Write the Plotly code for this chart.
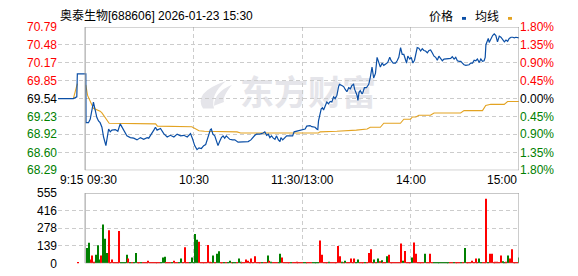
import plotly.graph_objects as go

# ---------------- data ----------------
title_text = "奥泰生物[688606] 2026-01-23 15:30"
watermark_text = "东方财富"
prev_close = 69.54

# minutes from 09:30 (lunch break compressed; 120 = 11:30/13:00, 240 = 15:00)
price_min = [-15, -6.5, -4.6, -4.3, 0.4,
             0.5, 1.85, 2.8, 4.6, 5.6, 6.5, 7.4, 8.3, 9.3, 10.2, 11.5, 13.0, 13.9, 14.8, 16.7,
             18.1, 19.4, 20.4, 22.2, 23.1, 25.0, 26.9, 28.7, 30.6, 32.4, 34.3, 35.2, 37.0, 38.0,
             38.9, 39.8, 41.7, 42.6, 43.5, 45.4, 47.2, 49.1, 50.9, 52.8, 54.6, 56.5, 58.3,
             59.3, 60.6, 61.9, 63.0, 64.3, 65.6, 66.7, 67.4, 68.5, 69.3, 69.8, 70.7, 71.7, 72.6,
             73.5, 74.4, 75.4, 76.3, 77.2, 78.1, 79.1, 80.0, 81.5, 82.8, 84.6, 86.5, 88.3, 90.2,
             91.7, 92.6, 93.9, 94.8, 96.7, 98.5, 99.4, 100.4, 101.3, 102.2, 103.1, 104.1, 105.0,
             105.9, 106.9, 107.8, 108.3, 109.3, 110.2, 111.5, 113.3, 114.8, 115.6, 117.0, 118.9,
             120.7, 121.7, 122.6, 123.5, 124.4, 125.4, 127.2, 128.1, 128.7, 129.1, 130.0, 130.6,
             131.3, 131.9, 132.8, 133.7, 134.6, 135.6, 136.5, 137.4, 138.3, 139.3, 140.2, 140.7,
             142.0, 143.0, 143.9, 144.8, 145.8, 146.7, 147.6, 148.5, 149.1, 149.8, 150.4, 150.9,
             151.5, 152.2, 153.2, 153.7, 154.5, 155.6, 156.9, 157.8, 158.7, 159.6, 160.6, 161.5,
             162.4, 163.3, 164.3, 165.2, 166.1, 167.4, 168.5, 169.3, 170.4, 171.7, 172.6, 173.5,
             174.5, 175.4, 176.3, 177.2, 177.8, 178.5, 179.6, 180.4, 181.3, 182.2, 182.8, 183.7,
             184.6, 185.6, 186.5, 187.4, 188.3, 189.3, 190.2, 191.1, 192.0, 193.0, 193.9, 194.8,
             195.7, 196.7, 197.6, 198.5, 200.4, 202.2, 203.1, 204.1, 205.0, 205.9, 206.9, 207.8,
             208.7, 209.6, 210.6, 212.4, 213.3, 214.3, 215.2, 216.1, 217.0, 218.0, 218.9, 219.8,
             220.7, 221.3, 221.7, 222.2, 223.0, 223.5, 224.4, 225.4, 226.3, 227.2, 228.1, 229.1,
             230.0, 230.9, 231.9, 232.8, 233.7, 234.6, 235.6, 236.5, 237.4, 238.3, 239.3, 240.0]
price_val = [69.54, 69.54, 69.57, 69.97, 69.97,
             69.12, 69.12, 69.18, 69.48, 69.32, 69.21, 69.15, 69.12, 69.04, 68.87, 68.72, 69.01, 68.96, 68.99, 69.00,
             68.97, 69.10, 69.04, 68.93, 68.89, 68.86, 68.85, 68.82, 68.86, 68.83, 68.86, 68.85, 68.93, 68.99,
             69.04, 68.99, 69.02, 68.96, 68.93, 68.87, 68.90, 68.87, 68.92, 68.89, 68.90, 68.87, 68.93,
             68.85, 68.72, 68.65, 68.68, 68.67, 68.72, 68.74, 68.82, 68.90, 69.00, 69.01, 68.92, 68.89, 68.82,
             68.72, 68.79, 68.86, 68.89, 68.85, 68.89, 68.85, 68.83, 68.82, 68.82, 68.78, 68.78, 68.78, 68.79,
             68.82, 68.86, 68.90, 68.92, 68.92, 68.94, 68.96, 68.90, 68.92, 68.86, 68.89, 68.85, 68.83,
             68.89, 68.82, 68.79, 68.86, 68.82, 68.85, 68.89, 68.89, 68.89, 68.96, 68.97, 68.98,
             68.99, 69.01, 69.06, 69.07, 69.07, 69.05, 69.04, 69.01, 69.00, 69.15, 69.26, 69.36,
             69.38, 69.34, 69.41, 69.48, 69.45, 69.49, 69.48, 69.57, 69.54, 69.60, 69.75, 69.79,
             69.77, 69.75, 69.70, 69.66, 69.73, 69.71, 69.77, 69.79, 69.70, 69.65, 69.60, 69.51,
             69.65, 69.68, 69.62, 69.65, 69.73, 69.73, 69.79, 69.92, 70.09, 69.90, 69.98, 70.26,
             70.17, 70.09, 70.16, 70.12, 70.14, 70.17, 70.26, 70.20, 70.16, 70.16, 70.20, 70.26,
             70.43, 70.31, 70.31, 70.23, 70.16, 70.28, 70.23, 70.26, 70.16, 70.21, 70.28, 70.43,
             70.42, 70.37, 70.41, 70.38, 70.37, 70.34, 70.38, 70.39, 70.34, 70.28, 70.26, 70.21,
             70.28, 70.23, 70.20, 70.23, 70.24, 70.24, 70.27, 70.23, 70.26, 70.20, 70.19, 70.19,
             70.16, 70.13, 70.12, 70.13, 70.16, 70.16, 70.21, 70.20, 70.23, 70.17, 70.23, 70.19,
             70.20, 70.26, 70.48, 70.53, 70.59, 70.52, 70.58, 70.64, 70.67, 70.64, 70.53, 70.63,
             70.61, 70.56, 70.53, 70.56, 70.54, 70.59, 70.61, 70.61, 70.60, 70.61, 70.61, 70.60]

avg_min = [-6.5, -4.3, None,
           0.4, 1.3, 4.6, 8.3, 9.3, 11.5, 13.3, 39.0, 40.0, 59.0, 61.0, 63.0, 66.0, 84.0, 86.0,
           129.0, 130.0, 138.0, 139.2, 150.0, 156.0, 157.7, 163.3, 165.2, 174.4, 176.3, 180.0,
           181.0, 183.0, 184.6, 191.0, 193.0, 207.7, 209.6, 219.8, 221.6, 224.4, 231.8, 233.7, 240.0]
avg_val = [69.54, 69.80, None,
           69.78, 69.60, 69.37, 69.32, 69.29, 69.20, 69.11, 69.10, 69.06, 69.05, 69.01, 68.98, 68.97, 68.96, 68.94,
           68.94, 68.96, 68.96, 68.97, 68.99, 69.01, 69.04, 69.04, 69.11, 69.11, 69.18, 69.18,
           69.22, 69.22, 69.25, 69.25, 69.29, 69.29, 69.33, 69.33, 69.42, 69.44, 69.44, 69.49, 69.49]

# volume: pre-market auction bar + minutes 1..240
vol_pre_min = [-4]
vol_pre_val = [5]
vol_pre_dir = ["r"]
vol_val = [120, 162, 30, 62, 12, 67, 142, 30, 62, 307,
           195, 82, 262, 8, 30, 6, 6, 6, 255, 7,
           7, 7, 67, 37, 8, 6, 8, 82, 6, 6,
           6, 6, 8, 6, 20, 6, 6, 6, 6, 6,
           6, 8, 45, 52, 6, 6, 8, 6, 20, 6,
           6, 8, 37, 8, 127, 6, 6, 8, 45, 8,
           232, 187, 170, 8, 6, 6, 8, 145, 12, 6,
           62, 6, 75, 95, 6, 6, 8, 6, 6, 20,
           6, 8, 6, 8, 37, 12, 6, 8, 30, 20,
           6, 37, 8, 55, 6, 8, 8, 6, 8, 6,
           62, 20, 12, 6, 6, 6, 8, 75, 45, 6,
           8, 6, 6, 6, 8, 6, 12, 6, 6, 6,
           8, 6, 6, 6, 6, 6, 7, 7, 8, 180,
           67, 6, 8, 6, 12, 7, 6, 6, 6, 137,
           55, 12, 7, 20, 6, 6, 37, 6, 37, 7,
           30, 6, 8, 6, 6, 8, 82, 112, 6, 30,
           7, 37, 17, 25, 6, 7, 55, 67, 6, 8,
           6, 8, 6, 6, 157, 20, 97, 6, 8, 6,
           45, 165, 75, 6, 8, 6, 6, 75, 6, 7,
           75, 6, 8, 6, 8, 6, 6, 8, 6, 6,
           8, 6, 6, 6, 6, 8, 6, 6, 6, 120,
           8, 6, 8, 20, 8, 37, 7, 37, 7, 6,
           7, 510, 7, 75, 75, 6, 12, 12, 6, 62,
           17, 7, 12, 62, 37, 112, 7, 6, 6, 45]
vol_dir = list("ggrrrggg" "rg"
               "ggrrrrrrrg"
               "gggrgrgg" "rr"
               "grrrrrrrrr"
               "rgggrrrgrr"
               "rggrrrrggg"
               "ggrrrrrrrr"
               "grggrrgrgg"
               "rggrggrrrr"
               "rrrrrrrgrr"
               "grgrrrggrr"
               "rrrgrrrrrr"
               "ggrrrggggr"
               "rrrrgrrrrr"
               "rgrgrrrrrg"
               "grrrgrrrrg"
               "rgrgrrgrrr"
               "rrrrrgrrrr"
               "grrrrrrgrr"
               "rrgggggggg"
               "grrgrrrgrg"
               "rrrrrrrggr"
               "rrgrrrrrrr"
               "ggrgrrrrrg")
vol_min = list(range(1, 241))

price_ticks = [68.29, 68.60, 68.92, 69.23, 69.54, 69.85, 70.17, 70.48, 70.79]
pct_labels = ["1.80%", "1.35%", "0.90%", "0.45%", "0.00%", "0.45%", "0.90%", "1.35%", "1.80%"]
vol_ticks = [0, 139, 278, 416, 555]
x_tick_vals = [-15, 0, 60, 120, 180, 240]
x_tick_text = ["9:15", "09:30", "10:30", "11:30/13:00", "14:00", "15:00"]
legend_names = ["价格", "均线"]

# ---------------- style ----------------
W, H = 578, 276
RED, GREEN, BLACK = "#ff0000", "#008000", "#000000"
BLUE, GOLD = "#0b4fa6", "#e3a322"
GRID = "#cccccc"
FRAME = "#999999"
WM = "#e5e5ea"
FONT = "Arial, 'Noto Sans CJK SC', sans-serif"

def px_x(p):
    return p / W

def px_y(p):
    return 1 - p / H

def px_path(points):
    parts = []
    for cmd, pts in points:
        coords = " ".join(f"{px_x(x):.5f},{px_y(y):.5f}" for x, y in pts)
        parts.append(f"{cmd} {coords}")
    return " ".join(parts) + " Z"

def col_for(v):
    if abs(v - prev_close) < 1e-9:
        return BLACK
    return RED if v > prev_close else GREEN

left_text = [f'<span style="color:{col_for(v)}">{v:.2f}</span>' for v in price_ticks]
right_text = [f'<span style="color:{col_for(v)}">{t}</span>' for v, t in zip(price_ticks, pct_labels)]

x_dom = [px_x(58), px_x(519)]
y_main = [px_y(172), px_y(21)]
y_vol = [px_y(270), px_y(196)]
x_rng = [-15, 240]

fig = go.Figure()
fig.add_trace(go.Scatter(x=avg_min, y=avg_val, mode="lines", line=dict(color=GOLD, width=1.1),
                         connectgaps=False, xaxis="x", yaxis="y", hoverinfo="skip"))
fig.add_trace(go.Scatter(x=price_min, y=price_val, mode="lines", line=dict(color=BLUE, width=1.2),
                         xaxis="x", yaxis="y", hoverinfo="skip"))
fig.add_trace(go.Scatter(x=[None], y=[None], xaxis="x", yaxis="y2", showlegend=False))

all_min = vol_pre_min + vol_min
all_val = vol_pre_val + vol_val
all_dir = vol_pre_dir + vol_dir
fig.add_trace(go.Bar(x=all_min, y=all_val, width=0.6,
                     marker=dict(color=[RED if d == "r" else GREEN for d in all_dir], line=dict(width=0)),
                     xaxis="x2", yaxis="y3", hoverinfo="skip"))

dash = "4px,3px"
fig.update_layout(
    width=W, height=H, margin=dict(l=0, r=0, t=0, b=0),
    paper_bgcolor="white", plot_bgcolor="white", showlegend=False,
    font=dict(family=FONT, size=12, color=BLACK),
    xaxis=dict(domain=x_dom, range=x_rng, anchor="y", tickvals=[-15, 60, 120, 180],
               showticklabels=False, showgrid=True, gridcolor=GRID, griddash=dash, gridwidth=1,
               zeroline=False, showline=False, ticks=""),
    yaxis=dict(domain=y_main, range=[price_ticks[0], price_ticks[-1]], anchor="x",
               tickvals=price_ticks, ticktext=left_text, showgrid=True, gridcolor=GRID,
               griddash=dash, zeroline=False, showline=False, ticks="",
               tickfont=dict(family=FONT, size=12)),
    yaxis2=dict(overlaying="y", side="right", anchor="x", range=[price_ticks[0], price_ticks[-1]],
                tickvals=price_ticks, ticktext=right_text, showgrid=False, zeroline=False,
                showline=False, ticks="", ticklabelstandoff=0, tickfont=dict(family=FONT, size=12)),
    xaxis2=dict(domain=x_dom, range=x_rng, anchor="y3", tickvals=[60, 120, 180],
                showticklabels=False, showgrid=True, gridcolor=GRID, griddash=dash,
                zeroline=False, showline=False, ticks=""),
    yaxis3=dict(domain=y_vol, range=[0, 555], anchor="x2", tickvals=vol_ticks,
                ticktext=[str(v) for v in vol_ticks], showgrid=True, gridcolor=GRID,
                griddash=dash, zeroline=False, showline=False, ticks="",
                tickfont=dict(family=FONT, size=12, color=BLACK)),
)

icon_outer = [("M", [(203, 107)]), ("Q", [(193, 90), (226, 78)]), ("Q", [(210, 92), (214, 107)])]
icon_inner = [("M", [(214, 104)]), ("Q", [(214, 90), (232, 82)]), ("Q", [(222, 95), (224, 100)])]

shapes = [
    dict(type="rect", xref="x", yref="y", x0=0, x1=240, y0=price_ticks[0], y1=price_ticks[-1],
         line=dict(color=FRAME, width=1), fillcolor="rgba(0,0,0,0)", layer="above"),
    dict(type="rect", xref="x2", yref="y3", x0=0, x1=240, y0=0, y1=555,
         line=dict(color=FRAME, width=1), fillcolor="rgba(0,0,0,0)", layer="above"),
    # watermark
    dict(type="path", xref="paper", yref="paper", path=px_path(icon_outer),
         line=dict(width=0), fillcolor=WM, layer="below"),
    dict(type="path", xref="paper", yref="paper", path=px_path(icon_inner),
         line=dict(width=0), fillcolor=WM, layer="below"),
    dict(type="rect", xref="paper", yref="paper", x0=px_x(236), x1=px_x(380), y0=px_y(110), y1=px_y(76),
         line=dict(width=0), fillcolor="rgba(0,0,0,0)", layer="below",
         label=dict(text=watermark_text, textposition="middle center",
                    font=dict(family="'Noto Sans CJK SC'", size=34, color=WM, weight="bold"))),
    # legend swatches
    dict(type="rect", xref="paper", yref="paper", x0=px_x(462), x1=px_x(466), y0=px_y(13.5), y1=px_y(10.5),
         line=dict(width=0), fillcolor=BLUE),
    dict(type="rect", xref="paper", yref="paper", x0=px_x(508), x1=px_x(512), y0=px_y(13.5), y1=px_y(10.5),
         line=dict(width=0), fillcolor=GOLD),
]
fig.update_layout(shapes=shapes)

anns = [
    dict(text=title_text, xref="paper", yref="paper", x=px_x(58), y=px_y(9.5), xanchor="left",
         yanchor="middle", showarrow=False, font=dict(family=FONT, size=12, color=BLACK)),
    dict(text=legend_names[0], xref="paper", yref="paper", x=px_x(455), y=px_y(10.5), xanchor="right",
         yanchor="middle", showarrow=False, font=dict(family=FONT, size=12, color=BLACK)),
    dict(text=legend_names[1], xref="paper", yref="paper", x=px_x(501), y=px_y(10.5), xanchor="right",
         yanchor="middle", showarrow=False, font=dict(family=FONT, size=12, color=BLACK)),
]
anchors = ["left", "left", "center", "center", "center", "right"]
for v, t, a in zip(x_tick_vals, x_tick_text, anchors):
    anns.append(dict(text=t, xref="x", yref="paper", x=v, y=px_y(182), xanchor=a, yanchor="middle",
                     showarrow=False, font=dict(family=FONT, size=12, color=BLACK)))
fig.update_layout(annotations=anns)

fig.write_html("out.html")
